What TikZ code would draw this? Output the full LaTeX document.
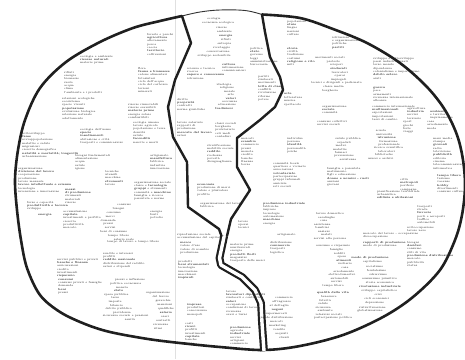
\documentclass[tikz,border=0pt]{standalone}
\newcommand\mapcol[4]{\node[twl] (#1) at (#2,#3) {#4};}
% name, x0, ytop, spacing, bulge (+ right / - left), count, words
\newcommand\maparc[7]{\foreach \w [count=\i] in {#7} {\node[tw] (#1-\i) at ({#2+#5*sin(180*(\i-1)/(#6-1))},{#3+(\i-1)*#4}) {\w};}}
\begin{document}
\begin{tikzpicture}[x=1pt,y=-1pt,
  tw/.style={inner sep=0pt, font=\fontsize{2.8}{3.35}\selectfont, text=black!85},
  twl/.style={tw, align=left, anchor=north west},
  rim/.style={line width=2.6pt, draw=black!88, line join=round},
  rimthin/.style={line width=0.9pt, draw=black!80},
  divider/.style={line width=2.4pt, draw=black!88, line join=round, line cap=round},
  dbl/.style={line width=2.2pt, draw=black!88, double=white, double distance=3.4pt, line join=round},
  fold/.style={draw=black!12, line width=0.5pt}]
\useasboundingbox (0,0) rectangle (465,359);
\fill[white] (0,0) rectangle (465,359);
\draw[fold] (175.5,0) -- (175.5,359);

% outline
\coordinate (ltop) at (182,16);
\coordinate (rtop) at (262,14.5);
\draw[rim] plot[smooth, tension=0.55] coordinates {(262,14.5) (300,18) (333,29) (367,43) (400,63) (427,87) (445,110) (457,135) (463,160) (465,187) (462,215) (455,240) (440,270) (413,297) (383,317) (343,335) (300,346) (263,350) (220,347) (180,343) (148,339) (110,332) (85,324) (60,312) (40,295) (27,268) (21,240) (17,210) (15,180) (18,150) (25,120) (40,88) (66,62) (100,42) (133,28) (160,21) (182,16)};
\draw[rimthin] plot[smooth, tension=0.6] coordinates {(182,16) (200,12) (220,10) (245,10.5) (262,14.5)};

% dividers
\coordinate (lend) at (221.5,236);
\coordinate (rend) at (227,236);
\coordinate (join) at (224.2,236);
\coordinate (bot) at (264,351);
\draw[divider] (ltop) -- (191,43) -- (175,80) -- (168,107) -- (170,120) -- (173,137) -- (187,162) -- (188,207) -- (219,229) -- (lend);
\draw[divider] (rtop) -- (265,32) -- (270,57) -- (280,77) -- (283,90) -- (275,107) -- (260,120) -- (237,138) -- (237,167) -- (250,190) -- (231,219) -- (rend);
\draw[dbl] (join) -- (219.5,258) -- (221,265) -- (242,277) -- (255,290) -- (261,303) -- (262,323) -- (bot);

% ---------- left region ----------
\mapcol{c01}{80}{55}{ecologia e ambiente\\ \textbf{risorse naturali}\\ materie prime}
\mapcol{c02}{64}{71}{rifiuti\\ energia\\ biomasse\\ suolo\\ acqua\\ clima\\ l'ambiente e i prodotti}
\mapcol{c03}{62}{97}{relazioni ecologiche\\ ecosistema\\ specie viventi\\ \textbf{popolazione}\\ evoluzione biologica\\ selezione naturale\\ adattamento}
\mapcol{c04}{147}{33}{foreste e parchi\\ \textbf{agricoltura}\\ allevamento\\ pesca\\ caccia\\ \textbf{territorio}\\ coltivazioni}
\mapcol{c05}{138}{67}{flora\\ \textbf{fauna e biomasse}\\ catene alimentari\\ fotosintesi\\ ciclo dell'acqua\\ ciclo del carbonio\\ terreni\\ minerali}
\mapcol{c06}{128}{103}{risorse rinnovabili\\ risorse esauribili\\ \textbf{materie prime}\\ energia solare\\ combustibili}
\mapcol{c07}{22}{132}{sottosviluppo\\ \textbf{fame}\\ sovrappopolazione\\ malattie e salute\\ migrazioni\\ crescita demografica\\ \textbf{natalità e mortalità; longevità}\\ urbanizzazione}
\mapcol{c08}{80}{128}{ecologia dell'uomo\\ \textbf{specie}\\ \textbf{insediamenti}\\ abitazione e città\\ trasporti e comunicazioni}
\mapcol{c09}{75}{154}{bisogni fondamentali\\ alimentazione\\ acqua\\ salute\\ igiene}
\mapcol{c10}{105}{170}{tecniche\\ utensili\\ macchine\\ \textbf{strumenti}\\ lavoro}
\mapcol{c11}{18}{167}{organizzazione\\ \textbf{divisione del lavoro}\\ cooperazione\\ produzione\\ lavoro manuale\\ \textbf{lavoro intellettuale e scienza}\\ tecnologia\\ invenzione e innovazione}
\mapcol{c12}{27}{201}{forze e capacità\\ \textbf{produttività e tecnica}\\ sviluppo}
\mapcol{c13}{38}{213}{\textbf{energia}}
\mapcol{c14}{65}{188}{\textbf{mezzi}\\ \textbf{di produzione}\\ strumenti\\ materiali\\ risorse}
\mapcol{c15}{63}{210}{accumulazione\\ \textbf{capitale}\\ investimenti e profitto\\ crescita\\ produttività\\ mercato}
\maparc{c16}{124}{205}{3.8}{-16}{10}{consumi,bisogni,consumo,merci,domanda,prezzi,servizi,beni di consumo,tempo libero,salario reale}
\mapcol{c17}{133}{121}{ecologia umana\\ lavoro agricolo\\ popolazione e terra\\ densità\\ salute\\ \textbf{fecondità}\\ nascite e morti}
\mapcol{c18}{134}{181}{organizzazione sociale\\ classe e \textbf{tecnologia}\\ \textbf{gruppi} e strumenti\\ comunità e \textbf{macchine}\\ famiglia e ricerca\\ parentela e norme}
\mapcol{c85}{150}{154}{artigianato\\ \textbf{manifattura}\\ fabbrica\\ industria\\ innovazione}
\mapcol{c87}{150}{210}{energia\\ fonti\\ petrolio}
\mapcol{c64}{57}{258}{servizi pubblici e privati\\ \textbf{banche e finanza}\\ assicurazioni\\ credito\\ investimenti\\ \textbf{risparmio}}
\mapcol{c65}{58}{278}{\textbf{consumi}\\ consumi privati e famiglie\\ domanda\\ \textbf{beni}\\ prezzi}
\mapcol{c66}{103}{252}{rendite e interessi\\ profitti\\ \textbf{reddito nazionale}\\ distribuzione del reddito\\ salari e stipendi}
\maparc{c67}{130}{280}{3.6}{-15}{12}{prezzi e inflazione,politica economica,moneta,\textbf{stato},spesa pubblica,tasse,imposte,bilancio,debito pubblico,previdenza,sicurezza sociale e pensioni,sanità}
\mapcol{c68}{107}{240}{tempo di lavoro e tempo libero}
\maparc{c69}{158}{293}{4}{8}{10}{organizzazione,del lavoro,gerarchie,mansioni,qualifiche,\textbf{salario},orari,contratti,sicurezza,ritmi}

% ---------- middle region ----------
\maparc{c19}{214}{19}{4.1}{12}{10}{ecologia,economia ecologica,risorse,ambiente,\textbf{energia},rifiuti,entropia,riciclaggio,conservazione,sviluppo sostenibile}
\mapcol{c20}{250}{47}{politica\\ \textbf{stato}\\ governo\\ leggi\\ amministrazione\\ burocrazia}
\mapcol{c21}{187}{67}{scienza e tecnica\\ ricerca\\ \textbf{sapere e conoscenza}\\ istruzione}
\mapcol{c22}{222}{63}{\textbf{cultura}\\ informazione\\ comunicazioni}
\maparc{c23}{224}{85}{3.3}{7}{8}{ideologia,religione,morale,arte,\textbf{valori},coscienza,educazione,\textbf{tradizioni}}
\mapcol{c24}{258}{75}{partiti\\ sindacati\\ movimenti\\ \textbf{lotta di classe}\\ conflitti\\ rivoluzione\\ riforme\\ potere}
\mapcol{c25}{177}{98}{diritto\\ \textbf{proprietà}\\ contratti\\ norme giuridiche}
\mapcol{c26}{177}{121}{lavoro salariato\\ rapporti di\\ produzione\\ \textbf{mercato del lavoro}\\ salari}
\mapcol{c27}{215}{122}{classi sociali\\ borghesia\\ proletariato\\ ceti medi\\ contadini}
\mapcol{c28}{207}{144}{stratificazione\\ mobilità sociale\\ \textbf{reddito}\\ ricchezza\\ povertà\\ disuguaglianza}
\mapcol{c30}{197}{183}{\textbf{economia}\\ produzione di merci\\ valore e plusvalore\\ profitto}
\mapcol{c31}{200}{202}{organizzazione del lavoro\\ fabbrica}
\mapcol{c32}{177}{233}{riproduzione sociale\\ accumulazione del capitale}
\mapcol{c70}{180}{242}{\textbf{merce}\\ valore d'uso\\ valore di scambio\\ produzione}
\mapcol{c71}{178}{260}{prodotti\\ \textbf{beni strumentali}\\ tecnologia\\ innovazione\\ macchinari\\ \textbf{impianti}}
\mapcol{c72}{187}{303}{\textbf{imprese}\\ produttori\\ concorrenza\\ monopoli}
\mapcol{c73}{185}{322}{costi\\ \textbf{ricavi}\\ profitti\\ investimenti\\ \textbf{capitale}\\ banche\\ borsa}
\mapcol{c74}{226}{290}{lavoro\\ \textbf{lavoratori dipendenti}\\ sindacati e contratti\\ \textbf{salari}\\ occupazione\\ condizioni di lavoro\\ sicurezza\\ orari e turni}
\mapcol{c75}{230}{326}{\textbf{produzione}\\ agricola\\ \textbf{industriale}\\ servizi\\ artigiani\\ commercio}
\mapcol{c76}{230}{243}{materie prime\\ semilavorati\\ energia\\ \textbf{prodotti finiti}\\ magazzini\\ trasporto delle merci}

% ---------- right region ----------
\mapcol{c29}{241}{137}{mercati\\ \textbf{scambio}\\ commercio\\ prezzi\\ moneta\\ credito\\ banche\\ finanza\\ borsa}
\mapcol{c33}{287}{20}{popolazioni\\ \textbf{etnie}\\ lingue\\ nazioni\\ culture}
\mapcol{c34}{287}{47}{\textbf{storia}\\ civiltà\\ tradizione\\ costumi\\ \textbf{religione e rito}\\ miti}
\mapcol{c35}{284}{93}{\textbf{arte}\\ letteratura\\ musica\\ spettacolo}
\mapcol{c36}{332}{36}{istituzioni\\ e organizzazioni\\ politiche\\ \textbf{partiti}}
\maparc{c37}{330}{58}{3.6}{10}{10}{movimenti sociali,proteste,scioperi,\textbf{sindacati},lavoratori,operai,impiegati,tecnici e dirigenti e padronato,classe media,borghesia}
\mapcol{c38}{373}{57}{sviluppo e sottosviluppo\\ paesi industrializzati\\ terzo mondo\\ dipendenza\\ colonialismo e imperialismo\\ \textbf{debito estero}\\ aiuti}
\mapcol{c39}{373}{87}{\textbf{guerra}\\ pace\\ armamenti\\ sicurezza internazionale\\ alleanze}
\mapcol{c40}{372}{105}{commercio internazionale\\ \textbf{multinazionali}\\ esportazioni\\ importazioni\\ tassi di cambio}
\mapcol{c41}{407}{107}{agricoltura\\ \textbf{industria}\\ servizi\\ terziario}
\mapcol{c42}{430}{110}{\textbf{ambiente}\\ e territorio\\ inquinamento}
\mapcol{c43}{322}{105}{organizzazione\\ \textbf{sociale}\\ comunità}
\mapcol{c45}{317}{120}{consumi collettivi\\ servizi sociali}
\maparc{c46}{348}{139}{3.4}{-8}{7}{salute pubblica,ospedali,medici,malattie,farmaci,prevenzione,assistenza}
\maparc{c47}{381}{131}{3.4}{8}{9}{scuola,università,\textbf{istruzione},formazione,professionale,ricerca scientifica,laboratori,biblioteche,musei e archivi}
\mapcol{c48}{403}{121}{sport\\ giochi\\ feste\\ viaggi}
\mapcol{c49}{427}{121}{casa\\ arredamento\\ moda}
\mapcol{c50}{433}{137}{mass media\\ stampa\\ \textbf{giornali}\\ radio\\ televisione\\ \textbf{pubblicità}\\ editoria\\ cinema\\ telecomunicazioni\\ informatica}
\mapcol{c51}{437}{174}{\textbf{tempo libero}\\ turismo\\ vacanze\\ \textbf{hobby}\\ divertimenti\\ consumi culturali}
\mapcol{c52}{327}{167}{famiglia e parentela\\ matrimonio\\ figli e educazione\\ \textbf{donne e uomini - ruoli}\\ anziani\\ giovani}
\mapcol{c53}{273}{162}{comunità locale\\ quartiere e vicinato\\ associazioni\\ \textbf{volontariato}\\ partecipazione\\ gruppi informali\\ amicizie\\ reti sociali}
\mapcol{c54}{287}{137}{individuo\\ persona\\ \textbf{identità}\\ personalità\\ psiche}
\mapcol{c55}{400}{178}{città\\ \textbf{metropoli}\\ periferie\\ campagne}
\mapcol{c56}{377}{190}{pianificazione territoriale\\ urbanistica\\ \textbf{edilizia e abitazioni}}
\mapcol{c57}{417}{205}{trasporti\\ strade\\ \textbf{ferrovie}\\ porti e aeroporti\\ traffico\\ automobili}
\maparc{c58}{330}{214}{3.5}{-8}{8}{lavoro domestico,casalinghe,cura,assistenza,bambini,anziani,malati,servizi alla persona}
\mapcol{c59}{363}{232}{mercato del lavoro - occupazione\\ disoccupazione}
\mapcol{c60}{407}{226}{sottoccupazione\\ lavoro nero}
\mapcol{c61}{263}{202}{\textbf{produzione industriale}\\ fabbriche\\ imprese\\ tecnologie\\ automazione\\ \textbf{macchine}\\ energia}
\mapcol{c62}{238}{220}{lavoro\\ operai\\ tecnici}
\mapcol{c63}{277}{233}{artigianato}
\maparc{c77}{284}{298}{4}{-8}{11}{commercio,all'ingrosso,al dettaglio,\textbf{negozi},supermercati,grande distribuzione,mercati,marketing,vendite,acquisti,clienti}
\mapcol{c78}{270}{241}{distribuzione\\ \textbf{commercio}\\ trasporti\\ logistica}
\maparc{c79}{333}{246}{3.6}{12}{12}{consumo e risparmio,famiglie,redditi,spese,\textbf{alimenti},vestiario,casa,arredamento,elettrodomestici,automobili,servizi,tempo libero}
\maparc{c80}{333}{293}{3.6}{-10}{8}{\textbf{qualità della vita},benessere,felicità,salute,sicurezza,ambiente,relazioni sociali,partecipazione politica}
\maparc{c81}{370}{258}{4.1}{10}{14}{\textbf{modo di produzione},capitalismo,socialismo,feudalesimo,schiavismo,comunismo primitivo,storia economica,\textbf{rivoluzione industriale},sviluppo capitalistico,crisi,cicli economici,depressione,ristrutturazione,globalizzazione}
\mapcol{c82}{363}{241}{\textbf{rapporti di produzione}\\ modo di produzione}
\mapcol{c83}{407}{241}{bisogni\\ \textbf{desideri}\\ consumo\\ stili di vita\\ \textbf{produzione distribuzione}\\ mercato\\ pubblicità\\ status}
\end{tikzpicture}
\end{document}
